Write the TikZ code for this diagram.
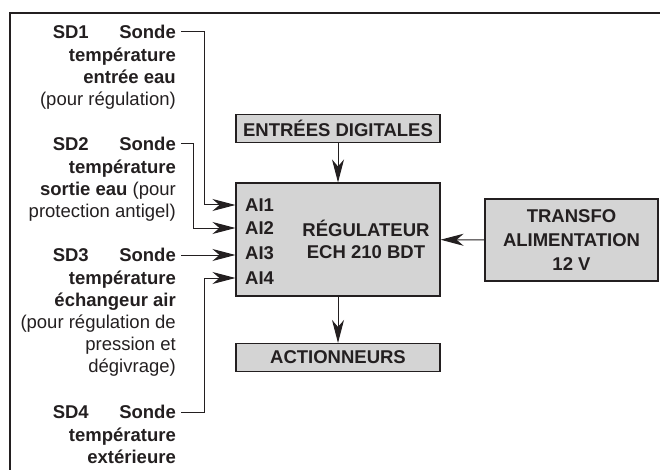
\documentclass[tikz,border=0pt]{standalone}
\usepackage{fontspec}
\setmainfont{Liberation Sans}
\usetikzlibrary{arrows.meta,positioning}

\definecolor{grisbloc}{RGB}{212,212,212}
\definecolor{trait}{RGB}{35,31,32}

\tikzset{
  texte/.style={text=trait, font=\bfseries\fontsize{18.5}{22}\selectfont},
  bloc/.style={texte, draw=trait, fill=grisbloc, line width=1.1pt, align=center, inner sep=0pt},
  sonde/.style={texte, anchor=east, inner xsep=5pt, inner ysep=0pt},
  legende/.style={texte, align=right, inner sep=0pt},
  entree/.style={texte, anchor=west, inner sep=0pt},
  fleche/.style={draw=trait, line width=1pt, -{Stealth[length=23pt,width=12pt,inset=7pt]}}
}

\begin{document}
\begin{tikzpicture}[x=1pt,y=-1pt]
    \useasboundingbox (0,0) rectangle (660,470);

    % Cadre (haut et gauche)
    \draw[trait, line width=1.4pt] (10,470) -- (10,13) -- (660,13);

    % Bloc central : le regulateur
    \node[bloc, minimum width=204pt, minimum height=113pt] (reg) at (338,239.5) {};
    \node[texte, align=center] (regtxt) at (366,239.5) {RÉGULATEUR\\ECH 210 BDT};

    % Entrees analogiques du regulateur
    \node[entree] (ai1) at (245,205) {AI1};
    \node[entree] (ai2) at (245,228) {AI2};
    \node[entree] (ai3) at (245,253) {AI3};
    \node[entree] (ai4) at (245,278) {AI4};

    % Blocs autour
    \node[bloc, minimum width=204pt, minimum height=28pt] (dig) at (338,128.5) {ENTRÉES DIGITALES};
    \node[bloc, minimum width=204pt, minimum height=28pt] (act) at (338,357.5) {ACTIONNEURS};
    \node[bloc, minimum width=173pt, minimum height=82pt, font=\bfseries\fontsize{18.5}{24}\selectfont] (alim) at (571.5,240) {TRANSFO\\ALIMENTATION\\12 V};

    % Sondes (titre)
    \node[sonde] (sd1) at (181,32) {\makebox[123pt]{SD1\hfill Sonde}};
    \node[sonde] (sd2) at (181,144) {\makebox[123pt]{SD2\hfill Sonde}};
    \node[sonde] (sd3) at (181,255) {\makebox[123pt]{SD3\hfill Sonde}};
    \node[sonde] (sd4) at (181,412) {\makebox[123pt]{SD4\hfill Sonde}};

    % Sondes (description)
    \node[legende, below=9pt of sd1.south east, anchor=north east, xshift=-5pt] (sd1txt)
      {température\\entrée eau\\\mdseries(pour régulation)};
    \node[legende, below=9pt of sd2.south east, anchor=north east, xshift=-5pt] (sd2txt)
      {température\\sortie eau {\mdseries(pour}\\\mdseries protection antigel)};
    \node[legende, below=9pt of sd3.south east, anchor=north east, xshift=-5pt] (sd3txt)
      {température\\échangeur air\\\mdseries(pour régulation de\\\mdseries pression et\\\mdseries dégivrage)};
    \node[legende, below=9pt of sd4.south east, anchor=north east, xshift=-5pt] (sd4txt)
      {température\\extérieure};

    % Liaisons sondes -> regulateur
    \draw[fleche] (sd1.east) -- ++(23,0) |- (reg.west |- ai1);
    \draw[fleche] (sd2.east) -- ++(12,0) |- (reg.west |- ai2);
    \draw[fleche] (sd3.east) -- (sd3.east -| reg.west);
    \draw[fleche] (sd4.east) -- ++(23,0) |- (reg.west |- ai4);

    % Autres liaisons
    \draw[fleche] (dig) -- (reg);
    \draw[fleche] (reg) -- (act);
    \draw[fleche] (alim) -- (reg);

  \end{tikzpicture}
\end{document}
